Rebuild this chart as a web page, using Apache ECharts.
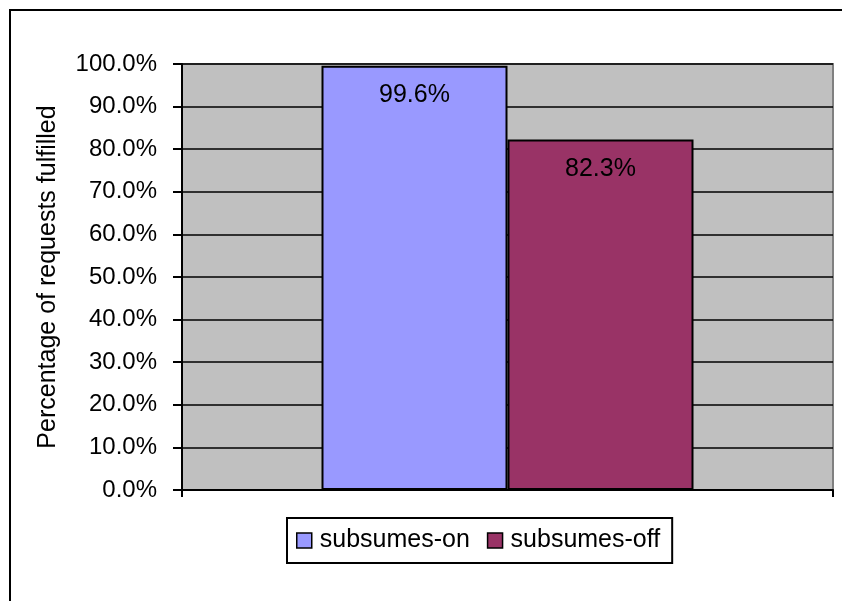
<!DOCTYPE html>
<html>
<head>
<meta charset="utf-8">
<script src="https://cdn.jsdelivr.net/npm/echarts@6/dist/echarts.min.js"></script>
<style>
    html, body {margin: 0; padding: 0; background: #fff;}
    #main {width: 842px; height: 601px;}
</style>
</head>
<body>
<div id="main"></div>
<script>
// data
var categories = ['requests'];
var seriesNames = ['subsumes-on', 'subsumes-off'];
var subsumesOn = [99.6];
var subsumesOff = [82.3];
var yTicks = {min: 0, max: 100, interval: 10};

var FONT = '"Liberation Sans", Arial, sans-serif';

function barLabel() {
    return {
        show: true,
        position: 'insideTop',
        distance: 17,
        fontSize: 25,
        color: '#000',
        fontFamily: FONT,
        formatter: function (p) {
            return p.value.toFixed(1) + '%';
        }
    };
}

var option = {
    animation: false,
    backgroundColor: '#fff',
    textStyle: {fontFamily: FONT},
    graphic: [
        {
            type: 'rect',
            shape: {x: 10, y: 10, width: 900, height: 700},
            style: {fill: null, stroke: '#000', lineWidth: 2},
            z: -10
        }
    ],
    grid: {
        left: 182,
        right: 9,
        top: 64,
        bottom: 111,
        show: true,
        backgroundColor: '#C0C0C0',
        borderColor: '#808080',
        borderWidth: 2
    },
    legend: {
        data: seriesNames,
        left: 287,
        top: 518,
        orient: 'horizontal',
        icon: 'rect',
        itemWidth: 15,
        itemHeight: 15,
        itemGap: 17,
        padding: [10, 12, 10, 9],
        borderColor: '#000',
        borderWidth: 2,
        borderRadius: 0,
        textStyle: {fontSize: 25, color: '#000', fontFamily: FONT, padding: [0, 0, 0, 3]},
        itemStyle: {borderColor: '#000', borderWidth: 1.5}
    },
    xAxis: {
        type: 'category',
        data: categories,
        axisLine: {lineStyle: {color: '#000', width: 2}},
        axisTick: {show: true, length: 7, lineStyle: {color: '#000', width: 2}},
        axisLabel: {show: false},
        splitLine: {show: false}
    },
    yAxis: {
        type: 'value',
        min: yTicks.min,
        max: yTicks.max,
        interval: yTicks.interval,
        name: 'Percentage of requests fulfilled',
        nameLocation: 'middle',
        nameGap: 121,
        nameTextStyle: {fontSize: 25, color: '#000', fontFamily: FONT},
        axisLine: {show: true, lineStyle: {color: '#000', width: 2}},
        axisTick: {show: true, length: 9, lineStyle: {color: '#000', width: 2}},
        axisLabel: {
            margin: 25,
            fontSize: 24,
            color: '#000',
            fontFamily: FONT,
            formatter: function (v) {
                return v.toFixed(1) + '%';
            }
        },
        splitLine: {show: true, lineStyle: {color: '#000', width: 1.5}}
    },
    series: [
        {
            name: seriesNames[0],
            type: 'bar',
            data: subsumesOn,
            barWidth: 186,
            barGap: '0%',
            itemStyle: {color: '#9999FF', borderColor: '#000', borderWidth: 2},
            label: barLabel()
        },
        {
            name: seriesNames[1],
            type: 'bar',
            data: subsumesOff,
            barWidth: 186,
            barGap: '0%',
            itemStyle: {color: '#993366', borderColor: '#000', borderWidth: 2},
            label: barLabel()
        }
    ]
};

var myChart = echarts.init(document.getElementById('main'));
myChart.setOption(option, true);
</script>
</body>
</html>
